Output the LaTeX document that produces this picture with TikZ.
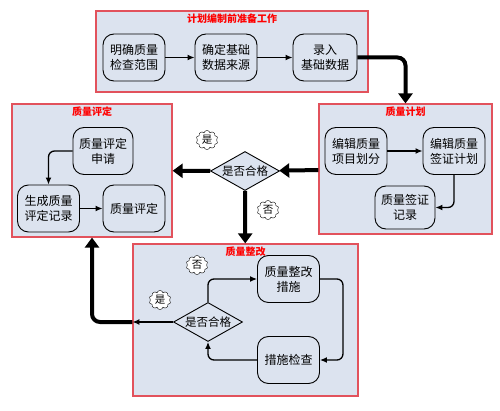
\documentclass[tikz,border=0pt]{standalone}
\usepackage{fontspec}
\setmainfont{Noto Sans CJK SC}
\usepackage{xcolor}
\usetikzlibrary{arrows.meta}
\usetikzlibrary{positioning}
\usetikzlibrary{shapes}

\definecolor{paneblue}{RGB}{220,227,239}
\definecolor{panered}{RGB}{226,82,92}

\begin{document}
\begin{tikzpicture}[x=1pt, y=-1pt, >={Latex[length=7pt,width=6pt]},
    panel/.style={draw=panered, fill=paneblue, line width=1.2pt},
    heading/.style={text=red, font=\fontsize{10}{12}\selectfont\bfseries, inner sep=1pt},
    box/.style={draw, fill=paneblue, rounded corners=11pt, line width=0.9pt, align=center,
                minimum width=62pt, minimum height=47pt, inner sep=0pt,
                font=\fontsize{12}{15}\selectfont},
    test/.style={diamond, draw, fill=paneblue, line width=0.9pt, aspect=1.75, inner sep=0pt,
                 minimum width=69pt, minimum height=39pt, font=\fontsize{11.5}{12}\selectfont},
    tag/.style={cloud, cloud puffs=10, draw, fill=white, inner sep=0pt,
                minimum width=22pt, minimum height=19pt, font=\fontsize{10.5}{10.5}\selectfont},
    flow/.style={->, line width=1.3pt, rounded corners=6pt},
    mid/.style={->, line width=2pt},
    main/.style={-{Triangle[length=10pt,width=14pt]}, line width=4pt, rounded corners=8pt}]
  \useasboundingbox (0,0) rectangle (500,411);

  % panels
  \node[panel, minimum width=272pt, minimum height=81pt]  (prep) at (232,51.5)  {};
  \node[panel, minimum width=173pt, minimum height=130pt] (plan) at (405.5,169) {};
  \node[panel, minimum width=160pt, minimum height=133pt] (eval) at (92,170.5)  {};
  \node[panel, minimum width=225pt, minimum height=152pt] (rect) at (245.5,320) {};
  \node[heading, below=2pt of prep.north] {计划编制前准备工作};
  \node[heading, below=2pt of plan.north] {质量计划};
  \node[heading, below=2pt of eval.north] {质量评定};
  \node[heading, below=2pt of rect.north] {质量整改};

  % steps
  \node[box] (a_1) at (134,57.5)  {明确质量\\检查范围};
  \node[box] (a_2) at (226,57.5)  {确定基础\\数据来源};
  \node[box, minimum width=64pt] (a_3) at (325,57.5) {录入\\基础数据};
  \node[box] (p_1) at (356,151)   {编辑质量\\项目划分};
  \node[box] (p_2) at (454,151)   {编辑质量\\签证计划};
  \node[box, minimum width=60pt, minimum height=43pt] (p_3) at (405,207.5) {质量签证\\记录};
  \node[box, minimum width=60pt] (e_1) at (103,151) {质量评定\\申请};
  \node[box] (e_2) at (48.5,208.5) {生成质量\\评定记录};
  \node[box] (e_3) at (134,208.5)  {质量评定};
  \node[box] (r_1) at (288.5,279)  {质量整改\\措施};
  \node[box] (r_2) at (288.5,360)  {措施检查};

  \node[test] (d_1) at (245,171) {是否合格};
  \node[test] (d_2) at (208,322) {是否合格};
  \node[tag]  (c_1) at (207,140) {是};
  \node[tag]  (c_2) at (268,210) {否};
  \node[tag]  (c_3) at (197,265) {否};
  \node[tag]  (c_4) at (160,300) {是};

  % connectors
  \path[flow]
    (a_1) edge (a_2)
    (a_2) edge (a_3)
    (p_1) edge (p_2)
    (e_2) edge (e_3);
  \draw[flow] (p_2) |- (p_3);
  \draw[flow] (e_1) -| (e_2);
  \draw[flow] (d_2) |- (r_1);
  \draw[flow] (r_1.east) -- ++(23,0) |- (r_2.east);
  \draw[flow] (r_2) -| (d_2);

  \draw[main] (a_3.east) -| (plan);
  \path[main]
    (plan) edge (d_1)
    (d_1)  edge (eval)
    (d_1)  edge (rect);
  \coordinate (gate) at (rect.west |- d_2.west);
  \draw[mid]  (d_2) -- (gate);
  \draw[main] (gate) -| (eval);
\end{tikzpicture}
\end{document}
